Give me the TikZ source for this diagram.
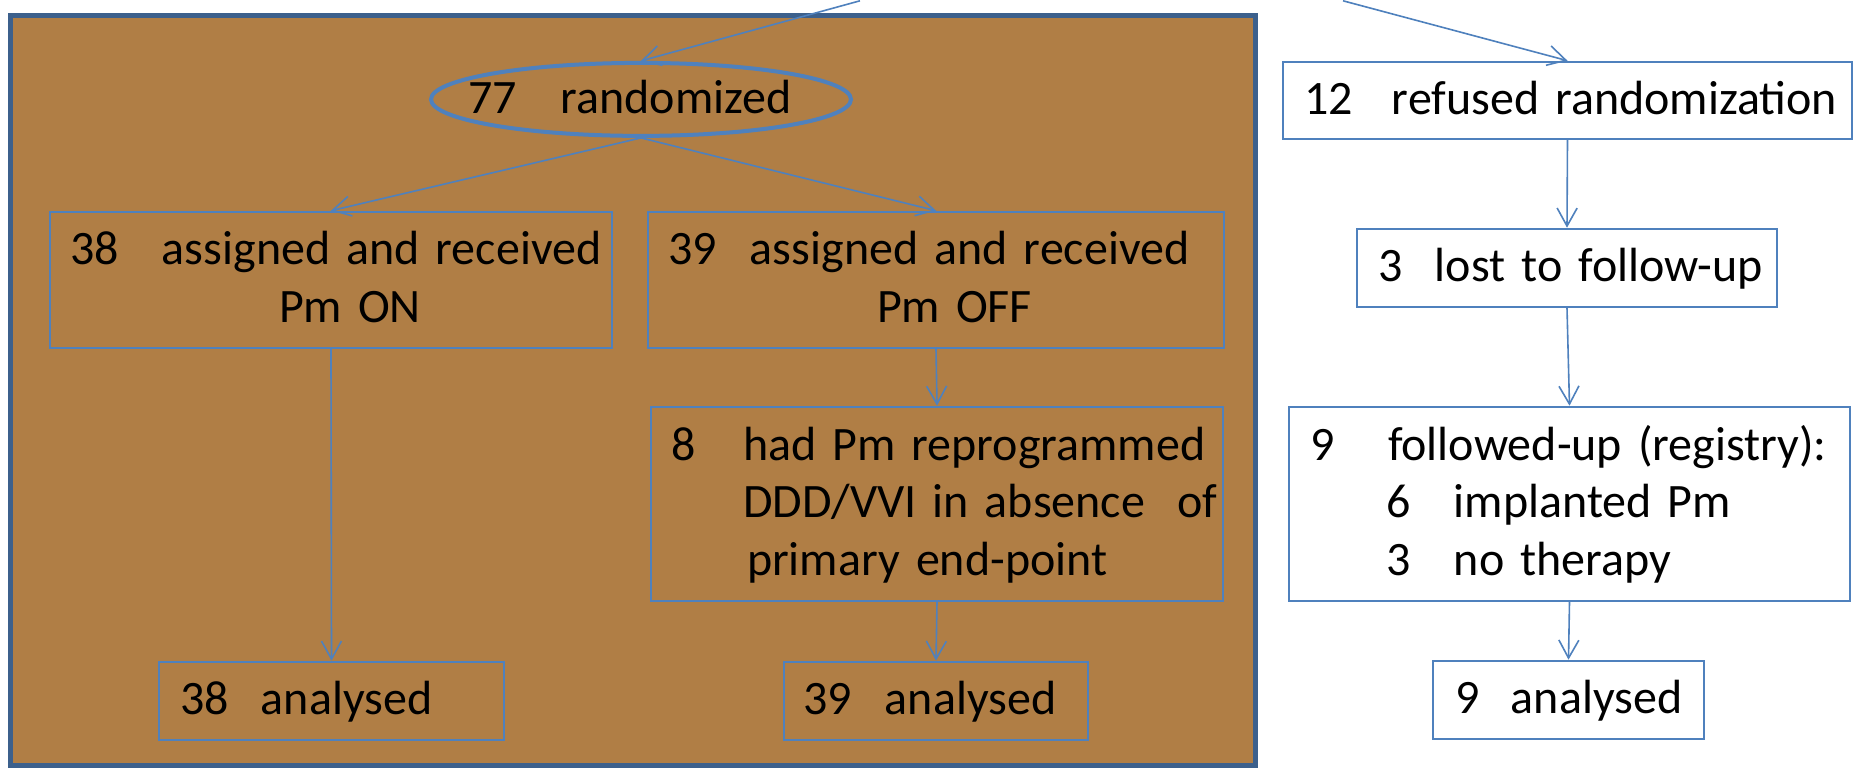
\documentclass[tikz,border=0pt]{standalone}
\usepackage{fontspec}
\setmainfont{Carlito}
\usetikzlibrary{arrows.meta,shapes.geometric}

\definecolor{trialbrown}{RGB}{176,126,69}
\definecolor{framedark}{RGB}{60,96,140}
\definecolor{lineblue}{RGB}{79,129,189}

% number column + text, kept on one line
\newcommand{\tabnum}[3]{\mbox{\rule[-0.26\baselineskip]{0pt}{\baselineskip}\makebox[#1][l]{#2}#3}}

\begin{document}
\begin{tikzpicture}[x=1pt,y=-1pt,
  font=\fontsize{24}{28.75}\selectfont,
  trialbox/.style={draw=lineblue,line width=1.1pt,inner ysep=0pt,align=left},
  flowarrow/.style={draw=lineblue,line width=0.8pt,-{Straight Barb[length=9pt,width=10pt]}}]
\fill[white] (0,0) rectangle (930,384);
\draw[framedark,line width=2.5pt,fill=trialbrown] (5.25,7.5) rectangle (627.75,382.5);

% randomized arm
\node[ellipse,draw=lineblue,line width=2pt,inner xsep=-12.25pt,inner ysep=-1.47pt,
  minimum width=210pt,minimum height=36.5pt] (rand) at (320.5,49.3)
  {\tabnum{46pt}{77}{randomized}\hspace*{11pt}};
\node[trialbox,minimum width=281pt,minimum height=68pt,inner xsep=10pt,text width=261pt] (on) at (165.5,139.5)
  {\tabnum{46pt}{38}{assigned and received}\\ \tabnum{104.5pt}{}{Pm ON}};
\node[trialbox,minimum width=288pt,minimum height=68pt,inner xsep=10pt,text width=268pt] (off) at (468,139.5)
  {\tabnum{41pt}{39}{assigned and received}\\ \tabnum{104.5pt}{}{Pm OFF}};
\node[trialbox,minimum width=286pt,minimum height=97pt,inner xsep=10pt,text width=266pt] (reprog) at (468.5,251.5)
  {\tabnum{36pt}{8}{had Pm reprogrammed}\\ \tabnum{36pt}{}{DDD/VVI in absence\ \ of}\\ \tabnum{38pt}{}{primary end-point}};
\node[trialbox,minimum width=172.5pt,minimum height=39pt,inner xsep=10.5pt,text width=151.5pt] (anaon) at (165.75,350)
  {\tabnum{40.5pt}{38}{analysed}};
\node[trialbox,minimum width=152pt,minimum height=39pt,inner xsep=9.5pt,text width=133pt] (anaoff) at (468,350)
  {\tabnum{41pt}{39}{analysed}};

% registry arm
\node[trialbox,fill=white,minimum width=284.5pt,minimum height=38.5pt,inner xsep=10.5pt,text width=263.5pt] (refused) at (783.75,49.75)
  {\tabnum{44pt}{12}{refused randomization}};
\node[trialbox,fill=white,minimum width=210pt,minimum height=39pt,inner xsep=10.5pt,text width=189pt] (lost) at (783.5,133.5)
  {\tabnum{28.5pt}{3}{lost to follow-up}};
\node[trialbox,fill=white,minimum width=280.5pt,minimum height=97pt,inner xsep=10.5pt,text width=259.5pt] (registry) at (784.75,251.5)
  {\tabnum{39pt}{9}{followed-up (registry):}\\ \tabnum{38pt}{}{\tabnum{34pt}{6}{implanted Pm}}\\ \tabnum{38pt}{}{\tabnum{34pt}{3}{no therapy}}};
\node[trialbox,fill=white,minimum width=135.5pt,minimum height=39pt,inner xsep=11pt,text width=113.5pt] (anareg) at (784.25,349.5)
  {\tabnum{28pt}{9}{analysed}};

\coordinate (srcl) at (430,0);
\coordinate (srcr) at (671.5,0);

\draw[flowarrow] (srcl) -- (rand.north);
\draw[flowarrow] (srcr) -- (refused.north);
\draw[flowarrow] (rand.south) -- (on.north);
\draw[flowarrow] (rand.south) -- (off.north);
\draw[flowarrow] (on.south) -- (anaon.north);
\draw[flowarrow] (off.south) -- (reprog.north);
\draw[flowarrow] (reprog.south) -- (anaoff.north);
\draw[flowarrow] (refused.south) -- (lost.north);
\draw[flowarrow] (lost.south) -- (registry.north);
\draw[flowarrow] (registry.south) -- (anareg.north);
\end{tikzpicture}
\end{document}
